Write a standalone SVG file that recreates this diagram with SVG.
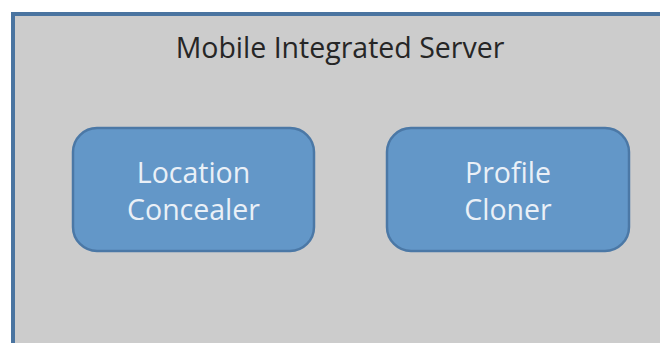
<svg xmlns="http://www.w3.org/2000/svg" width="660" height="343" viewBox="0 0 660 343">
  <style>
    .frame { fill: #cccccc; stroke: #4a74a0; stroke-width: 4; }
    .title { font-family: "Open Sans", "Liberation Sans", sans-serif; font-size: 28.5px; fill: #262626; text-anchor: middle; }
    .box { fill: #6397c8; stroke: #4b78a6; stroke-width: 2.5; }
    .label { font-family: "Open Sans", "Liberation Sans", sans-serif; font-size: 28.5px; fill: #eaf0f7; text-anchor: middle; }
  </style>
  <rect x="0" y="0" width="660" height="343" fill="#ffffff"/>
  <g id="server">
    <rect class="frame" x="13" y="14" width="660" height="340"/>
    <text class="title" x="340" y="58">Mobile Integrated Server</text>
  </g>
  <g id="connectors"/>
  <g id="location-concealer">
    <rect class="box" x="73" y="128" width="241" height="123" rx="24"/>
    <text class="label" x="193.5" y="183">Location</text>
    <text class="label" x="193.5" y="220">Concealer</text>
  </g>
  <g id="profile-cloner">
    <rect class="box" x="387" y="128" width="242" height="123" rx="24"/>
    <text class="label" x="508" y="183">Profile</text>
    <text class="label" x="508" y="220">Cloner</text>
  </g>
</svg>
